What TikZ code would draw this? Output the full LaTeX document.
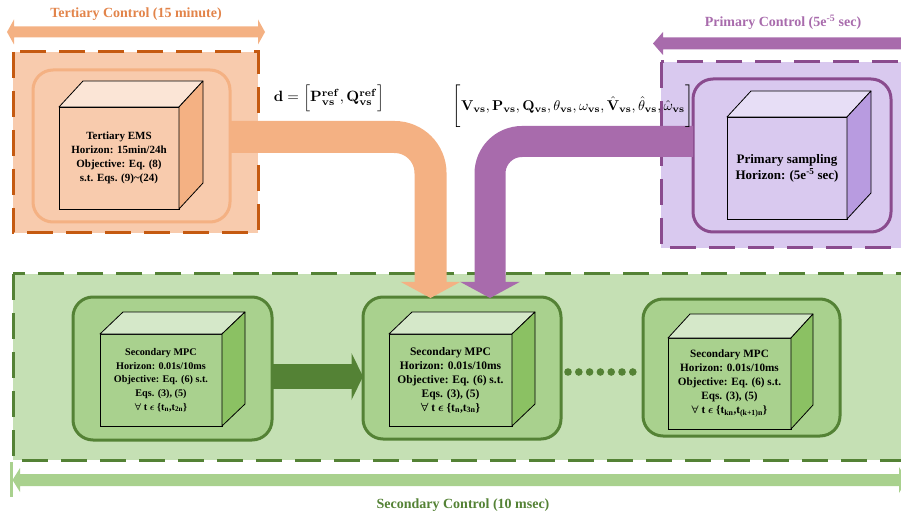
\documentclass[tikz,border=0pt]{standalone}
\usepackage[no-math]{fontspec}
\setmainfont{Liberation Serif}
\usepackage{amsmath}
\usetikzlibrary{calc}
\definecolor{orD}{HTML}{C55A11}
\definecolor{orM}{HTML}{F4B183}
\definecolor{orL}{HTML}{F8CBAD}
\definecolor{orT}{HTML}{FBE5D6}
\definecolor{orTitle}{HTML}{E2844A}
\definecolor{grD}{HTML}{548235}
\definecolor{grM}{HTML}{A9D18E}
\definecolor{grL}{HTML}{C5E0B4}
\definecolor{grT}{HTML}{D5E8C9}
\definecolor{grS}{HTML}{8BC163}
\definecolor{puD}{HTML}{8A4B8E}
\definecolor{puA}{HTML}{A86BAC}
\definecolor{puL}{HTML}{D9C9EF}
\definecolor{puT}{HTML}{E7DEF6}
\definecolor{puS}{HTML}{B89BE0}
\newcommand\cubefaces[5]{%
  \filldraw[face,fill=#4] (#1.north west) -- ($(#1.north west)+(#2,#3)$) -- ($(#1.north east)+(#2,#3)$) -- (#1.north east) -- cycle;
  \filldraw[face,fill=#5] (#1.north east) -- ($(#1.north east)+(#2,#3)$) -- ($(#1.south east)+(#2,#3)$) -- (#1.south east) -- cycle;}
\begin{document}
\begin{tikzpicture}[x=1pt,y=-1pt,
  outerbox/.style={line width=3pt, dash pattern=on 26pt off 13pt},
  inbox/.style={line width=3pt, rounded corners=20pt, outer sep=0pt, inner sep=0pt},
  front/.style={draw=black, line width=0.8pt, outer sep=0pt, inner sep=0pt, align=center, text=black},
  face/.style={draw=black, line width=0.8pt, line join=round},
  title/.style={font=\fontsize{14}{16}\selectfont\bfseries}]
\useasboundingbox (0,0) rectangle (901,518);
\clip (0,0) rectangle (901,518);
% outer regions
\draw[outerbox, draw=orD, fill=orL] (13,52) rectangle (258,233);
\draw[outerbox, draw=puD, fill=puL] (661,62) rectangle (925,248);
\draw[outerbox, draw=grD, fill=grL] (13,274) rectangle (925,460);
% inner boxes
\node[inbox, draw=orM, fill=orL, minimum width=197pt, minimum height=152pt] (tin) at (131.5,146) {};
\node[inbox, draw=puD, fill=puL, minimum width=198pt, minimum height=153pt] (pin) at (792,155.5) {};
\node[inbox, draw=grD, fill=grM, minimum width=199pt, minimum height=143pt] (s1) at (172.5,368.5) {};
\node[inbox, draw=grD, fill=grM, minimum width=198pt, minimum height=142pt] (s2) at (462,368) {};
\node[inbox, draw=grD, fill=grM, minimum width=197pt, minimum height=137pt] (s3) at (741.5,367.5) {};
% cubes
\node[front, fill=orL, minimum width=120pt, minimum height=102pt, font=\fontsize{11}{14}\selectfont\bfseries] (tc) at (119,158)
  {Tertiary EMS\\Horizon: 15min/24h\\Objective: Eq. (8)\\s.t. Eqs. (9)\textasciitilde(24)};
\cubefaces{tc}{24}{-26}{orT}{orM}
\node[front, fill=puL, minimum width=120pt, minimum height=102pt, font=\fontsize{13}{16}\selectfont\bfseries] (pc) at (787,168)
  {Primary sampling\\Horizon: (5e\textsuperscript{-5} sec)};
\cubefaces{pc}{24}{-26}{puT}{puS}
\node[front, fill=grM, minimum width=122pt, minimum height=92pt, font=\fontsize{10.2}{13.7}\selectfont\bfseries\boldmath] (c1) at (161,380)
  {Secondary MPC\\Horizon: 0.01s/10ms\\Objective: Eq. (6) s.t.\\Eqs. (3), (5)\\$\forall$ t $\epsilon$ \{t\textsubscript{n},t\textsubscript{2n}\}};
\cubefaces{c1}{23}{-22}{grT}{grS}
\node[front, fill=grM, minimum width=123pt, minimum height=92pt, font=\fontsize{11.5}{14}\selectfont\bfseries\boldmath] (c2) at (450.5,380)
  {Secondary MPC\\Horizon: 0.01s/10ms\\Objective: Eq. (6) s.t.\\Eqs. (3), (5)\\$\forall$ t $\epsilon$ \{t\textsubscript{n},t\textsubscript{3n}\}};
\cubefaces{c2}{23}{-22}{grT}{grS}
\node[front, fill=grM, minimum width=123pt, minimum height=91pt, font=\fontsize{11.2}{14}\selectfont\bfseries\boldmath] (c3) at (729.5,383.5)
  {Secondary MPC\\Horizon: 0.01s/10ms\\Objective: Eq. (6) s.t.\\Eqs. (3), (5)\\$\forall$ t $\epsilon$ \{t\textsubscript{kn},t\textsubscript{(k+1)n}\}};
\cubefaces{c3}{22}{-24}{grT}{grS}
% green step arrow
\coordinate (ga) at ($(s1.east)+(0,8)$);
\coordinate (gb) at ($(s2.west)+(0,8.5)$);
\draw[grD, line width=25pt] (ga) -- ($(gb)+(-11,0)$);
\fill[grD] ($(gb)+(-11.5,-23.5)$) -- (gb) -- ($(gb)+(-11.5,23.5)$) -- cycle;
% dots
\foreach \i in {0,...,6} \fill[grD] (568+10.8*\i,372) circle (3.8pt);
% orange connector
\coordinate (oa) at ($(tin.east)+(0,-9)$);
\coordinate (ot) at ($(s2.north)+(-31.5,1)$);
\draw[orM, line width=32pt, rounded corners=36pt] (oa) -- (oa -| ot) -- ($(ot)+(0,-16)$);
\fill[orM] ($(ot)+(-30,-16.2)$) -- (ot) -- ($(ot)+(30,-16.2)$) -- cycle;
% purple connector
\coordinate (pa) at ($(pin.west)+(0,-14)$);
\coordinate (pt) at ($(s2.north)+(28,1)$);
\draw[puA, line width=31pt, rounded corners=32pt] (pa) -- (pa -| pt) -- ($(pt)+(0,-16)$);
\fill[puA] ($(pt)+(-30,-16.2)$) -- (pt) -- ($(pt)+(30,-16.2)$) -- cycle;
% equations
\node[scale=1.49, inner sep=0pt] (deq) at (329,98)
  {$\mathbf{d}=\Big[\mathbf{P}^{\mathbf{ref}}_{\mathbf{vs}},\mathbf{Q}^{\mathbf{ref}}_{\mathbf{vs}}\Big]$};
\node[scale=1.42, inner sep=0pt] (veq) at (573,106.5)
  {$\Bigg[\mathbf{V}_{\mathbf{vs}},\mathbf{P}_{\mathbf{vs}},\mathbf{Q}_{\mathbf{vs}},\theta_{\mathbf{vs}},\omega_{\mathbf{vs}},\hat{\mathbf{V}}_{\mathbf{vs}},\hat{\theta}_{\mathbf{vs}},\hat{\omega}_{\mathbf{vs}}\Bigg]$};
% titles and time-scale arrows
\node[title, text=orTitle] (tt) at (136,14) {Tertiary Control (15 minute)};
\fill[orM] (7,32) -- (14,19.5) -- (14,26.5) -- (258,26.5) -- (258,19.5) -- (265,32) -- (258,44.5) -- (258,37.5) -- (14,37.5) -- (14,44.5) -- cycle;
\node[title, text=puA] (ptt) at (783,22) {Primary Control (5e\textsuperscript{-5} sec)};
\fill[puA] (653,43.5) -- (663,32) -- (663,37.5) -- (910,37.5) -- (910,49.5) -- (663,49.5) -- (663,55) -- cycle;
\node[title, text=grD] (stt) at (463,505) {Secondary Control (10 msec)};
\fill[grM] (12.5,480) -- (20,468) -- (20,474) -- (899,474) -- (899,467) -- (907,480) -- (899,493) -- (899,486) -- (20,486) -- (20,492) -- cycle;
\draw[grM, line width=2.5pt] (11.3,462) -- (11.3,497);
\end{tikzpicture}
\end{document}
